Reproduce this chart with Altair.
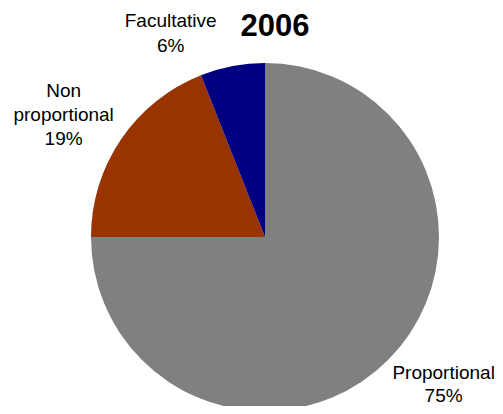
import altair as alt
import pandas as pd

# ---- data ----
categories = ["Proportional", "Non proportional", "Facultative"]
shares = [75, 19, 6]
label_lines = ["Proportional\n75%", "Non\nproportional\n19%", "Facultative\n6%"]
slice_order = [0, 1, 2]
title_text = ["2006"]
slice_colors = ["#808080", "#993300", "#000080"]

df = pd.DataFrame({
    "category": categories,
    "share": shares,
    "label": label_lines,
    "idx": slice_order,
})
title_df = pd.DataFrame({"t": title_text})

W, H = 487, 398
CX, CY = 257, 229
R = 174
FONT = "Liberation Sans"

color_scale = alt.Scale(domain=categories, range=slice_colors)
theta_scale = alt.Scale(domain=[0, 100])

base = alt.Chart(df)

arcs = base.mark_arc(outerRadius=R, strokeWidth=0).encode(
    x=alt.value(CX),
    y=alt.value(CY),
    theta=alt.Theta("share:Q", stack=True, scale=theta_scale),
    order=alt.Order("idx:Q"),
    color=alt.Color("category:N", scale=color_scale, legend=None),
)


def label_layer(cat, radius, dx, dy, lh):
    return (
        base.transform_window(
            cum="sum(share)", sort=[alt.SortField("idx")], frame=[None, 0]
        )
        .transform_calculate(mid="datum.cum - datum.share / 2")
        .transform_filter(alt.datum.category == cat)
        .mark_text(
            font=FONT, fontSize=19, lineBreak="\n", lineHeight=lh,
            align="center", baseline="middle", color="#000000", dx=dx, dy=dy,
        )
        .encode(
            x=alt.value(CX),
            y=alt.value(CY),
            theta=alt.Theta("mid:Q", stack=None, scale=theta_scale),
            radius=alt.value(radius),
            text="label:N",
        )
    )


lab_prop = label_layer("Proportional", 230, 16, -27, 23)
lab_non = label_layer("Non proportional", 235, -7, -14, 24)
lab_fac = label_layer("Facultative", 210, -55, -10, 25)

title = alt.Chart(title_df).mark_text(
    font=FONT, fontSize=31, fontWeight="bold", align="center",
    baseline="alphabetic", color="#000000",
).encode(x=alt.value(267), y=alt.value(28), text="t:N")

chart = alt.layer(arcs, lab_prop, lab_non, lab_fac, title).properties(
    width=W, height=H, autosize=alt.AutoSizeParams(type="none"), padding=0,
).configure_view(strokeWidth=0, fill=None)

chart.save("out.html", embed_options={"renderer": "svg", "actions": False})
